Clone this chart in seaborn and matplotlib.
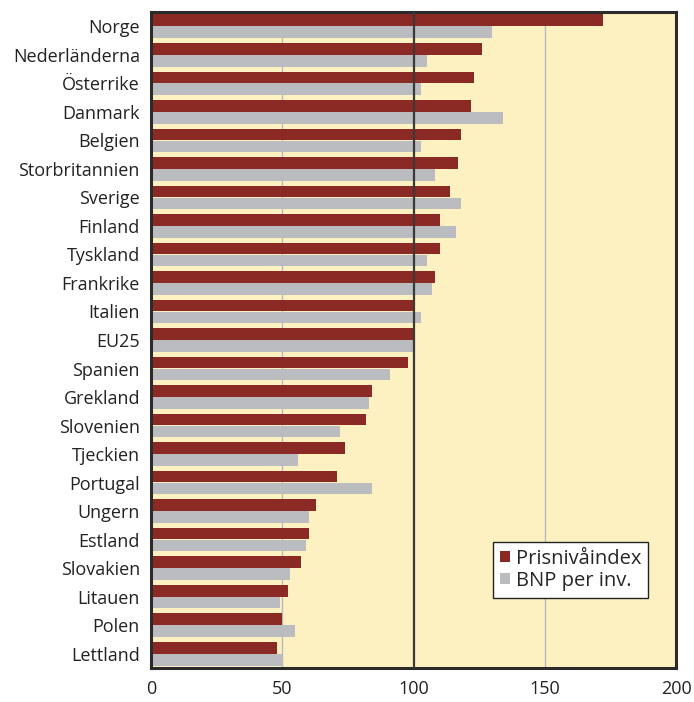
import pandas as pd
import numpy as np
import matplotlib
matplotlib.use('Agg')
import matplotlib.pyplot as plt
import seaborn as sns

countries = ['Norge', 'Nederländerna', 'Österrike', 'Danmark', 'Belgien',
             'Storbritannien', 'Sverige', 'Finland', 'Tyskland', 'Frankrike',
             'Italien', 'EU25', 'Spanien', 'Grekland', 'Slovenien', 'Tjeckien',
             'Portugal', 'Ungern', 'Estland', 'Slovakien', 'Litauen', 'Polen',
             'Lettland']
prisniva = [172, 126, 123, 122, 118, 117, 114, 110, 110, 108, 100, 100,
            98, 84, 82, 74, 71, 63, 60, 57, 52, 50, 48]
bnp = [130, 105, 103, 134, 103, 108, 118, 116, 105, 107, 103, 100,
       91, 83, 72, 56, 84, 60, 59, 53, 49, 55, 50]
series_names = ['Prisnivåindex', 'BNP per inv.']
x_ticks = [0, 50, 100, 150, 200]

df = pd.DataFrame({'Land': countries * 2,
                   'Värde': prisniva + bnp,
                   'Serie': [series_names[0]] * len(countries) + [series_names[1]] * len(countries)})

sns.set_style('white')
plt.rcParams['font.family'] = ['Open Sans', 'DejaVu Sans']

fig = plt.figure(figsize=(6.94, 7.02), dpi=100)
ax = fig.add_axes([151 / 694, 34 / 702, 525 / 694, 656 / 702])
ax.set_facecolor('#fef1c1')

ax.axvline(50, color='#b8b9c0', lw=1, zorder=0)
ax.axvline(150, color='#b8b9c0', lw=1, zorder=0)

sns.barplot(data=df, y='Land', x='Värde', hue='Serie', orient='h',
            palette=['#8b2924', '#bbbcbf'], width=0.84, gap=0.03,
            saturation=1, linewidth=0, ax=ax, zorder=2)

ax.axvline(100, color='#3a3a3a', lw=1.6, zorder=3)

ax.set_xlim(0, 200)
ax.set_ylim(len(countries) - 0.5, -0.5)
ax.set_xticks(x_ticks)
ax.set_xlabel('')
ax.set_ylabel('')
ax.tick_params(axis='both', length=0, labelsize=13, colors='#222222')
ax.tick_params(axis='x', pad=9)
ax.tick_params(axis='y', pad=8)
for s in ax.spines.values():
    s.set_color('#2b2b2b')
    s.set_linewidth(2.2)

leg = ax.legend(loc='lower right', bbox_to_anchor=(0.947, 0.107),
                fontsize=14.5, frameon=True, fancybox=False, framealpha=1,
                edgecolor='#222222', handlelength=0.5, handleheight=0.5,
                handletextpad=0.3, borderpad=0.35, labelspacing=0.1,
                borderaxespad=0)
leg.get_frame().set_linewidth(1)
leg.set_zorder(5)

fig.savefig('out.png', dpi=100)
